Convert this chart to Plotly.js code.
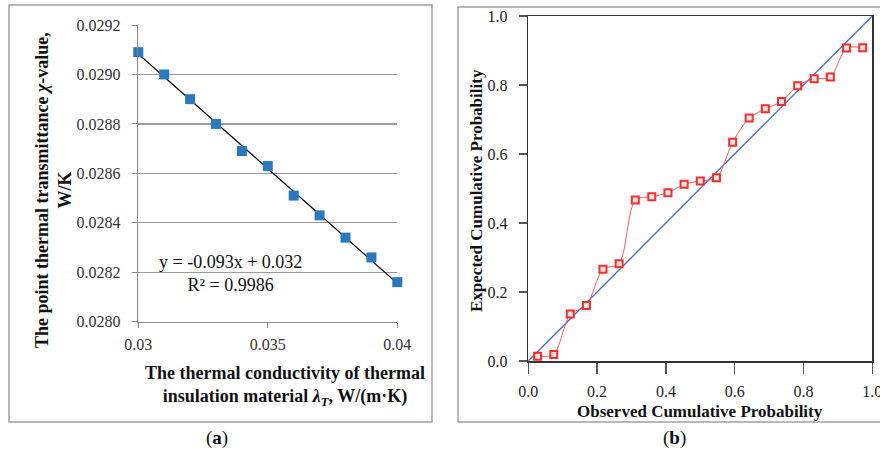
<!DOCTYPE html>
<html>
<head>
<meta charset="utf-8">
<script src="https://cdn.plot.ly/plotly-3.0.1.min.js"></script>
<style>html,body{margin:0;padding:0;background:#fff;}#chart{width:880px;height:454px;}</style>
</head>
<body>
<div id="chart"></div>
<script>
// Panel (a): thermal conductivity vs point thermal transmittance
const lambdaT = [0.030, 0.031, 0.032, 0.033, 0.034, 0.035, 0.036, 0.037, 0.038, 0.039, 0.040];
const chiValue = [0.02909, 0.02900, 0.02890, 0.02880, 0.02869, 0.02863, 0.02851, 0.02843, 0.02834, 0.02826, 0.02816];
const aYTicks = [0.0280, 0.0282, 0.0284, 0.0286, 0.0288, 0.0290, 0.0292];
const aXTicks = [0.03, 0.035, 0.04];

// Panel (b): P-P plot
const observedP = [0.027, 0.074, 0.122, 0.169, 0.217, 0.264, 0.311, 0.359, 0.406, 0.453, 0.500,
                   0.547, 0.594, 0.642, 0.689, 0.736, 0.783, 0.831, 0.878, 0.925, 0.972];
const expectedP = [0.014, 0.019, 0.136, 0.161, 0.266, 0.282, 0.467, 0.476, 0.488, 0.512, 0.522,
                   0.531, 0.634, 0.704, 0.731, 0.752, 0.798, 0.818, 0.823, 0.907, 0.908];
const refLine = [0, 1];
const bTicks = [0.0, 0.2, 0.4, 0.6, 0.8, 1.0];

// linear least-squares trend for panel (a)
const n = lambdaT.length;
const mx = lambdaT.reduce((a, b) => a + b, 0) / n;
const my = chiValue.reduce((a, b) => a + b, 0) / n;
let sxy = 0, sxx = 0;
for (let i = 0; i < n; i++) { sxy += (lambdaT[i] - mx) * (chiValue[i] - my); sxx += (lambdaT[i] - mx) ** 2; }
const slope = sxy / sxx, icpt = my - slope * mx;
const trendX = [lambdaT[0], lambdaT[n - 1]];
const trendY = trendX.map(x => icpt + slope * x);

const W = 880, H = 454;
const px = x => x / W, py = y => 1 - y / H;
const serif = '"Liberation Serif", "Times New Roman", serif';

function ann(x, y, text, size, extra) {
  return Object.assign({xref: 'paper', yref: 'paper', x: px(x), y: py(y), xanchor: 'center', yanchor: 'middle',
    showarrow: false, text: text, align: 'center', font: {size: size, family: serif, color: '#111'}}, extra || {});
}

const traces = [
  {x: trendX, y: trendY, xaxis: 'x', yaxis: 'y', mode: 'lines', line: {color: '#000', width: 1.2}, hoverinfo: 'skip', cliponaxis: false},
  {x: lambdaT, y: chiValue, xaxis: 'x', yaxis: 'y', mode: 'markers', cliponaxis: false,
   marker: {symbol: 'square', size: 10, color: '#2a78c0'}},
  {x: refLine, y: refLine, xaxis: 'x2', yaxis: 'y2', mode: 'lines', line: {color: '#4a6fc4', width: 1.4}, cliponaxis: false},
  {x: observedP, y: expectedP, xaxis: 'x2', yaxis: 'y2', mode: 'lines+markers', cliponaxis: false,
   line: {color: '#ff5a5a', width: 1, shape: 'spline', smoothing: 0.8},
   marker: {symbol: 'square', size: 7, color: '#ffe8e8', line: {color: '#ff2a2a', width: 2}}}
];

const layout = {
  width: W, height: H,
  margin: {l: 0, r: 0, t: 0, b: 0},
  paper_bgcolor: '#fff', plot_bgcolor: 'rgba(0,0,0,0)',
  showlegend: false,
  font: {family: serif, color: '#222', size: 16},
  xaxis: {domain: [px(138.3), px(397.3)], range: [0.03, 0.04], tickvals: aXTicks, ticktext: ['0.03', '0.035', '0.04'],
          showgrid: false, zeroline: false, showline: true, linecolor: '#8c8c8c', linewidth: 1.5, anchor: 'y',
          ticks: 'outside', ticklen: 5, tickcolor: '#8c8c8c', tickfont: {size: 16, family: serif, color: '#333'}, ticklabelstandoff: 3},
  yaxis: {domain: [py(321.7), py(25)], range: [0.0280, 0.0292], tickvals: aYTicks, tickformat: '.4f', anchor: 'x',
          showgrid: true, gridcolor: '#9a9a9a', gridwidth: 1.3, zeroline: false, showline: true, linecolor: '#8c8c8c', linewidth: 1.5,
          ticks: 'outside', ticklen: 5, tickcolor: '#8c8c8c', tickfont: {size: 16, family: serif, color: '#333'}, ticklabelstandoff: 8},
  xaxis2: {domain: [px(528.3), px(872.3)], range: [0, 1], tickvals: bTicks, tickformat: '.1f', anchor: 'y2',
           showgrid: false, zeroline: false, showline: true, mirror: true, linecolor: '#333', linewidth: 1.5,
           ticks: 'outside', ticklen: 11, tickcolor: '#555', tickwidth: 1.5, tickfont: {size: 16, family: serif, color: '#222'},
           ticklabelstandoff: 4, ticklabeloverflow: 'allow'},
  yaxis2: {domain: [py(361), py(16)], range: [0, 1], tickvals: bTicks, tickformat: '.1f', anchor: 'x2',
           showgrid: false, zeroline: false, showline: true, mirror: true, linecolor: '#333', linewidth: 1.5,
           ticks: 'outside', ticklen: 8, tickcolor: '#555', tickwidth: 1.5, tickfont: {size: 16, family: serif, color: '#222'}, ticklabelstandoff: 8},
  shapes: [
    {type: 'rect', xref: 'paper', yref: 'paper', x0: px(9), x1: px(432), y0: py(422), y1: py(5), line: {color: '#a0a0a0', width: 1.5}},
    {type: 'rect', xref: 'paper', yref: 'paper', x0: px(458), x1: px(884), y0: py(422), y1: py(7), line: {color: '#a0a0a0', width: 1.5}}
  ],
  annotations: [
    ann(54, 190, '<b>The point thermal transmittance <i>χ</i>-value,<br>W/K</b>', 18, {textangle: -90}),
    ann(285, 386, '<b>The thermal conductivity of thermal<br>insulation material <i>λ<sub>T</sub></i>, W/(m·K)</b>', 18),
    ann(230, 273, 'y = -0.093x + 0.032<br>R² = 0.9986', 18),
    ann(477, 190, '<b>Expected Cumulative Probability</b>', 17, {textangle: -90}),
    ann(700, 411, '<b>Observed Cumulative Probability</b>', 17),
    ann(217, 438, '(<b>a</b>)', 19),
    ann(674, 438, '(<b>b</b>)', 19)
  ]
};

Plotly.newPlot('chart', traces, layout, {displayModeBar: false, staticPlot: true});
</script>
</body>
</html>
